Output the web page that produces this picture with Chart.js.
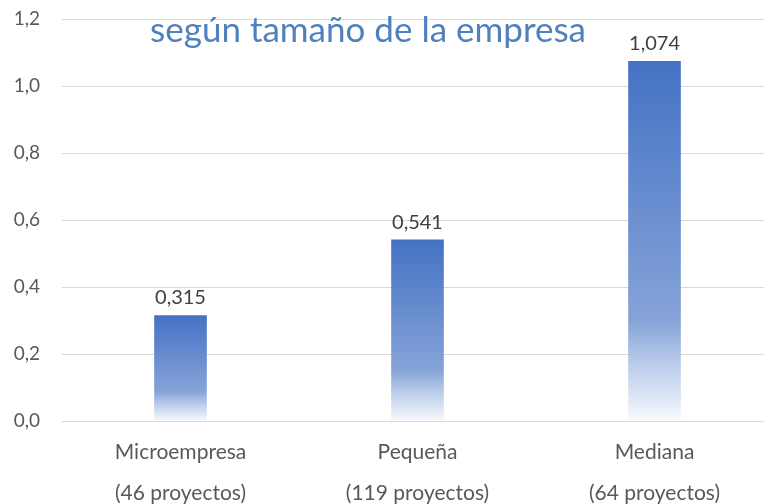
<!DOCTYPE html>
<html>
<head>
<meta charset="utf-8">
<script src="https://cdn.jsdelivr.net/npm/chart.js@4"></script>
<style>
  html, body { margin: 0; padding: 0; background: #fff; overflow: hidden; }
  #wrap { width: 764px; height: 504px; }
</style>
</head>
<body>
<div id="wrap"><canvas id="grafico"></canvas></div>
<script>
// datos del gráfico
const categorias = ['Microempresa', 'Pequeña', 'Mediana'];
const proyectos = ['(46 proyectos)', '(119 proyectos)', '(64 proyectos)'];
const valores = [0.315, 0.541, 1.074];
const tituloTexto = 'según tamaño de la empresa';

const fmt = v => v.toFixed(3).replace('.', ',');

// degradado azul -> blanco para cada barra
function colorBarra(ctx) {
  const chart = ctx.chart;
  if (!chart.chartArea || ctx.dataIndex === undefined) return '#4472C4';
  const y = chart.scales.y;
  const top = y.getPixelForValue(valores[ctx.dataIndex]);
  const bottom = y.getPixelForValue(0);
  const g = chart.ctx.createLinearGradient(0, top, 0, bottom);
  g.addColorStop(0, '#4472C4');
  g.addColorStop(0.72, '#86A3D8');
  g.addColorStop(0.84, '#B9CBEA');
  g.addColorStop(1, '#F8FAFD');
  return g;
}

// etiquetas encima de las barras
const etiquetas = {
  id: 'etiquetas',
  afterDatasetsDraw(chart) {
    const c = chart.ctx;
    const meta = chart.getDatasetMeta(0);
    c.save();
    c.font = '20px Lato';
    c.fillStyle = '#404040';
    c.textAlign = 'center';
    c.textBaseline = 'alphabetic';
    meta.data.forEach((bar, i) => {
      c.fillText(fmt(valores[i]), bar.x, bar.y - 11);
    });
    c.restore();
  }
};

// título (superpuesto al área del gráfico)
const titulo = {
  id: 'titulo',
  afterDraw(chart) {
    const c = chart.ctx;
    c.save();
    c.font = '35px Lato';
    c.fillStyle = '#4F81BD';
    c.textAlign = 'center';
    c.textBaseline = 'alphabetic';
    c.fillText(tituloTexto, 368, 42);
    c.restore();
  }
};

const ctx = document.getElementById('grafico').getContext('2d');
new Chart(ctx, {
  type: 'bar',
  data: {
    datasets: [{
      data: valores.map((v, i) => ({ x: i, y: v })),
      backgroundColor: colorBarra,
      barThickness: 52
    }]
  },
  options: {
    responsive: true,
    maintainAspectRatio: false,
    animation: false,
    layout: { padding: { top: 19, bottom: 0, right: 0, left: 0 } },
    plugins: {
      legend: { display: false },
      tooltip: { enabled: false }
    },
    scales: {
      x: {
        type: 'linear',
        offset: false,
        min: -0.5,
        max: 2.462,
        grid: { display: false },
        border: { display: false },
        afterBuildTicks: axis => {
          axis.ticks = categorias.map((c, i) => ({ value: i }));
        },
        afterFit: axis => {
          axis.height = 83;
          axis.paddingLeft = 0;
          axis.paddingRight = 0;
        },
        ticks: {
          autoSkip: false,
          maxRotation: 0,
          padding: 3,
          color: '#595959',
          font: { family: 'Lato', size: 21, lineHeight: 1.95 },
          callback: (v) => [categorias[v], proyectos[v]]
        }
      },
      y: {
        min: 0,
        max: 1.2,
        grid: { color: '#D9D9D9', lineWidth: 1, drawTicks: false },
        border: { display: false },
        afterFit: axis => {
          axis.width = 62;
          axis.paddingTop = 0;
          axis.paddingBottom = 0;
        },
        ticks: {
          stepSize: 0.2,
          padding: 22,
          color: '#595959',
          font: { family: 'Lato', size: 19 },
          callback: v => v.toFixed(1).replace('.', ',')
        }
      }
    }
  },
  plugins: [etiquetas, titulo]
});
</script>
</body>
</html>
